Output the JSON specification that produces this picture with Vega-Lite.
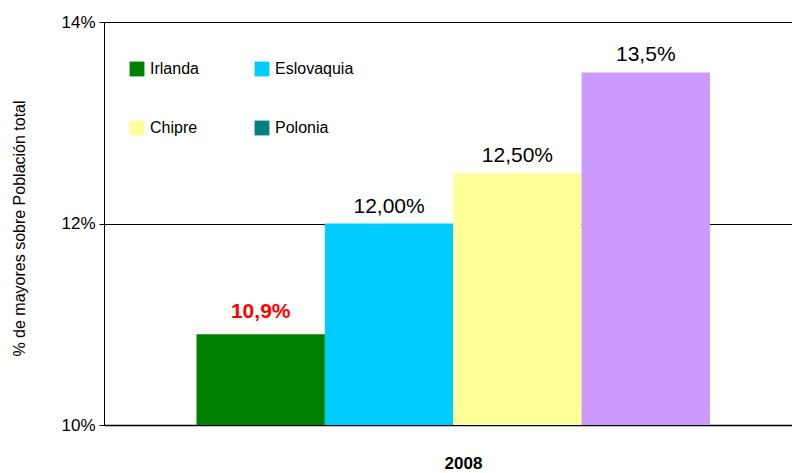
{
  "$schema": "https://vega.github.io/schema/vega-lite/v6.json",
  "width": 688,
  "height": 403,
  "autosize": "none",
  "padding": {"left": 104, "top": 22, "right": 0, "bottom": 48},
  "background": "white",
  "config": {"view": {"stroke": null}, "font": "Liberation Sans"},
  "data": {
    "values": [
      {"country": "Irlanda", "value": 10.9, "label": "10,9%"},
      {"country": "Eslovaquia", "value": 12.0, "label": "12,00%"},
      {"country": "Chipre", "value": 12.5, "label": "12,50%"},
      {"country": "Polonia", "value": 13.5, "label": "13,5%"}
    ]
  },
  "encoding": {
    "x": {
      "field": "country",
      "type": "nominal",
      "sort": null,
      "scale": {"paddingInner": 0, "paddingOuter": 0.68, "align": 0.53},
      "axis": {
        "title": "2008",
        "titleFontWeight": "bold",
        "titleFontSize": 17,
        "titleColor": "black",
        "titleX": 359,
        "titleY": 43,
        "titleBaseline": "alphabetic",
        "labels": false,
        "ticks": false,
        "domainColor": "black",
        "domainWidth": 1.5
      }
    },
    "y": {
      "field": "value",
      "type": "quantitative",
      "scale": {"domain": [10, 14], "zero": false, "nice": false},
      "axis": {
        "title": "% de mayores sobre Población total",
        "titleFontSize": 16,
        "titleFontWeight": "normal",
        "titleColor": "black",
        "titleX": -77,
        "titleY": 206,
        "values": [10, 12, 14],
        "labelExpr": "datum.value + '%'",
        "labelFontSize": 17,
        "labelColor": "black",
        "labelPadding": 4,
        "tickColor": "black",
        "tickSize": 5,
        "domainColor": "black",
        "grid": true,
        "gridColor": "black",
        "gridOpacity": 1,
        "gridWidth": 1.2
      }
    }
  },
  "layer": [
    {
      "mark": {"type": "bar", "width": {"band": 1}},
      "encoding": {
        "y2": {"datum": 10},
        "color": {
          "condition": {"test": "datum.country === 'Polonia'", "value": "#CC99FF"},
          "field": "country",
          "type": "nominal",
          "sort": null,
          "scale": {
            "domain": ["Irlanda", "Eslovaquia", "Chipre", "Polonia"],
            "range": ["#008000", "#00CCFF", "#FFFF99", "#008080"]
          },
          "legend": {
            "title": null,
            "orient": "none",
            "direction": "horizontal",
            "legendX": 25,
            "legendY": 39,
            "columns": 2,
            "symbolType": "square",
            "symbolSize": 220,
            "symbolStrokeWidth": 0,
            "symbolOpacity": 1,
            "labelFontSize": 16,
            "labelColor": "black",
            "labelOffset": 5,
            "rowPadding": 43,
            "columnPadding": 55
          }
        }
      }
    },
    {
      "transform": [{"filter": "datum.country !== 'Irlanda'"}],
      "mark": {"type": "text", "baseline": "bottom", "dy": -7, "fontSize": 21, "color": "black"},
      "encoding": {"text": {"field": "label"}}
    },
    {
      "transform": [{"filter": "datum.country === 'Irlanda'"}],
      "mark": {"type": "text", "baseline": "bottom", "dy": -12, "fontSize": 21, "fontWeight": "bold", "color": "#FF0000"},
      "encoding": {"text": {"field": "label"}}
    }
  ]
}
